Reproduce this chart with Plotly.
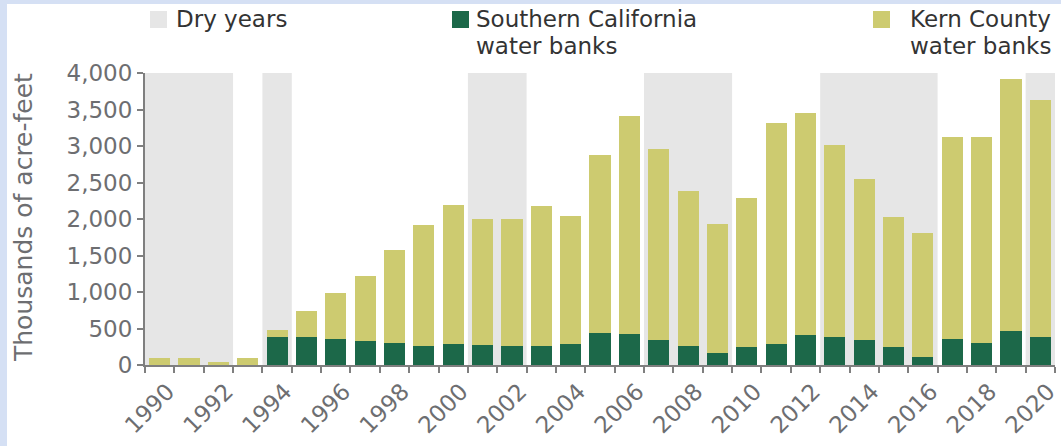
import plotly.graph_objects as go

years = list(range(1990, 2021))
socal = [0, 0, 0, 0, 385, 380, 352, 330, 306, 255, 292, 274, 265, 260, 283, 434,
         425, 342, 260, 160, 242, 292, 411, 379, 338, 251, 105, 361, 306, 461, 388]
kern = [90, 90, 45, 90, 95, 365, 633, 885, 1269, 1663, 1904, 1726, 1735, 1913, 1753, 2446,
        2988, 2612, 2128, 1776, 2041, 3019, 3046, 2630, 2210, 1781, 1708, 2762, 2817, 3461, 3242]
dry_years = [1990, 1991, 1992, 1994, 2001, 2002, 2007, 2008, 2009, 2013, 2014, 2015, 2016, 2020]
tick_years = list(range(1990, 2021, 2))
y_ticks = [0, 500, 1000, 1500, 2000, 2500, 3000, 3500, 4000]

GREEN = "#1c6849"
YELLOW = "#cdcb70"
GRAY = "#e6e6e6"
FRAME = "#d5e0f4"
TXT = "#6d6e71"
DARK = "#333333"
FONT = "DejaVu Sans"

W, H = 1061, 446
L, R, T, B = 145, 6, 73, 81
PW, PH = W - L - R, H - T - B


def px(x):
    return (x - L) / PW


def py(y):
    return (H - B - y) / PH


fig = go.Figure()
fig.add_trace(go.Bar(x=years, y=socal, name="Southern California water banks",
                     marker=dict(color=GREEN, line=dict(width=0)), width=0.72, showlegend=False))
fig.add_trace(go.Bar(x=years, y=kern, name="Kern County water banks",
                     marker=dict(color=YELLOW, line=dict(width=0)), width=0.72, showlegend=False))

# group consecutive dry years into spans
runs = []
for yr in dry_years:
    if runs and yr == runs[-1][1] + 1:
        runs[-1][1] = yr
    else:
        runs.append([yr, yr])

shapes = []
for a, b in runs:
    shapes.append(dict(type="rect", xref="x", yref="y", x0=a - 0.5, x1=b + 0.5,
                       y0=0, y1=y_ticks[-1], fillcolor=GRAY, line=dict(width=0), layer="below"))

# frame strips
shapes.append(dict(type="rect", xref="paper", yref="paper", x0=px(-20), x1=px(7),
                   y0=py(H + 20), y1=py(-20), fillcolor=FRAME, line=dict(width=0), layer="below"))
shapes.append(dict(type="rect", xref="paper", yref="paper", x0=px(-20), x1=px(W + 20),
                   y0=py(4), y1=py(-20), fillcolor=FRAME, line=dict(width=0), layer="below"))

# legend swatches
for x0, col in [(150, GRAY), (452, GREEN), (873, YELLOW)]:
    shapes.append(dict(type="rect", xref="paper", yref="paper", x0=px(x0), x1=px(x0 + 17),
                       y0=py(28), y1=py(11), fillcolor=col, line=dict(width=0)))

annotations = [
    dict(text="Dry years", x=px(174), y=py(19), xanchor="left", yanchor="middle"),
    dict(text="Southern California", x=px(474), y=py(19), xanchor="left", yanchor="middle"),
    dict(text="water banks", x=px(474), y=py(46), xanchor="left", yanchor="middle"),
    dict(text="Kern County", x=px(1053), y=py(19), xanchor="right", yanchor="middle"),
    dict(text="water banks", x=px(1053), y=py(46), xanchor="right", yanchor="middle"),
]
for a in annotations:
    a.update(xref="paper", yref="paper", showarrow=False, font=dict(family=FONT, size=23, color=DARK))
annotations.append(dict(text="Thousands of acre-feet", xref="paper", yref="paper", x=px(23), y=py(218),
                        xanchor="center", yanchor="middle", textangle=-90, showarrow=False,
                        font=dict(family=FONT, size=25, color=TXT)))

fig.update_layout(
    width=W, height=H,
    margin=dict(l=L, r=R, t=T, b=B, autoexpand=False),
    barmode="stack",
    paper_bgcolor="white", plot_bgcolor="rgba(0,0,0,0)",
    shapes=shapes, annotations=annotations,
    font=dict(family=FONT, size=23, color=TXT),
    xaxis=dict(range=[years[0] - 0.5, years[-1] + 0.5], tickmode="array", tickvals=tick_years,
               ticktext=[str(y) for y in tick_years], tickangle=-45, ticks="",
               ticklabelshift=8, ticklabelstandoff=2,
               showgrid=False, zeroline=False, showline=True, linecolor="#7f7f7f", linewidth=2,
               minor=dict(tickmode="linear", tick0=years[0] - 0.5, dtick=1, ticks="outside",
                          ticklen=6, tickwidth=2, tickcolor="#7f7f7f", showgrid=False),
               tickfont=dict(family=FONT, size=23, color=TXT), automargin=False),
    yaxis=dict(range=[0, y_ticks[-1]], tickmode="array", tickvals=y_ticks,
               ticktext=[f"{v:,}" for v in y_ticks], ticks="outside", ticklen=6, tickwidth=2,
               tickcolor="#7f7f7f", showgrid=False, zeroline=False, showline=True,
               linecolor="#7f7f7f", linewidth=2, tickfont=dict(family=FONT, size=23, color=TXT),
               automargin=False),
)

fig.write_html("out.html", config={"displayModeBar": False},
               post_script="document.body.style.margin='0';document.body.style.padding='0';"
                           "document.body.style.overflow='hidden';")
